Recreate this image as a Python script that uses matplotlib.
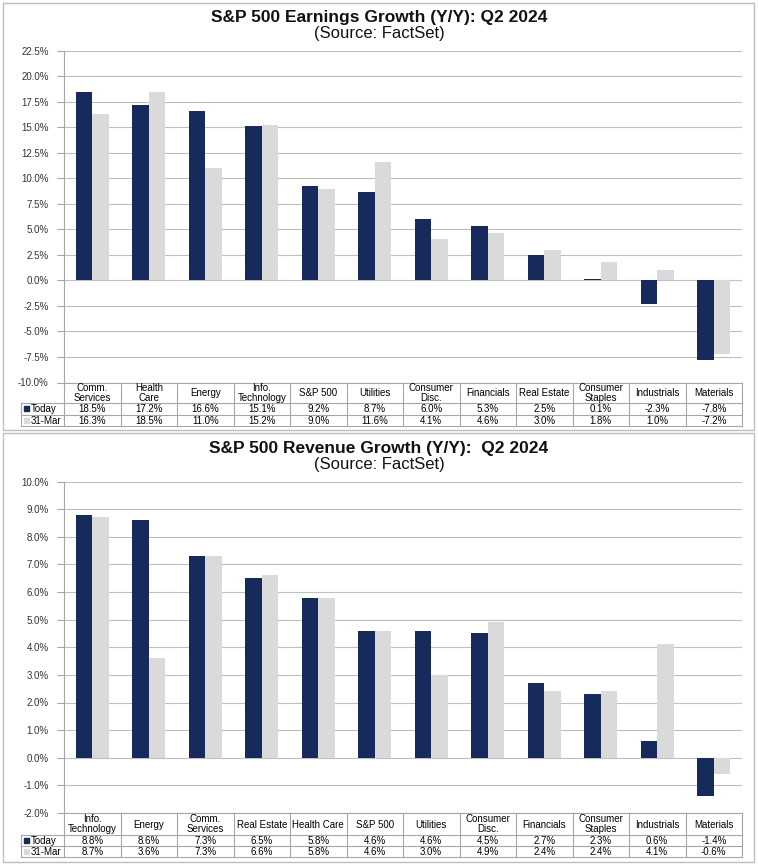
import numpy as np
import matplotlib as mpl
mpl.use("Agg")
import matplotlib.pyplot as plt
from matplotlib.patches import Rectangle
from matplotlib.ticker import MultipleLocator, FuncFormatter

plt.rcParams["font.family"] = ["Liberation Sans", "DejaVu Sans"]

# earnings growth, Q2 2024 (%)
earn_labels = ["Comm.\nServices", "Health\nCare", "Energy", "Info.\nTechnology",
               "S&P 500", "Utilities", "Consumer\nDisc.", "Financials",
               "Real Estate", "Consumer\nStaples", "Industrials", "Materials"]
earn_today = [18.5, 17.2, 16.6, 15.1, 9.2, 8.7, 6.0, 5.3, 2.5, 0.1, -2.3, -7.8]
earn_mar31 = [16.3, 18.5, 11.0, 15.2, 9.0, 11.6, 4.1, 4.6, 3.0, 1.8, 1.0, -7.2]

# revenue growth, Q2 2024 (%)
rev_labels = ["Info.\nTechnology", "Energy", "Comm.\nServices", "Real Estate",
              "Health Care", "S&P 500", "Utilities", "Consumer\nDisc.",
              "Financials", "Consumer\nStaples", "Industrials", "Materials"]
rev_today = [8.8, 8.6, 7.3, 6.5, 5.8, 4.6, 4.6, 4.5, 2.7, 2.3, 0.6, -1.4]
rev_mar31 = [8.7, 3.6, 7.3, 6.6, 5.8, 4.6, 3.0, 4.9, 2.4, 2.4, 4.1, -0.6]

series_names = ["Today", "31-Mar"]

NAVY = "#172a5c"
LGRAY = "#dadada"
LINE = "#a6a6a6"

W, H = 758, 868
fig = plt.figure(figsize=(W / 100, H / 100), dpi=100)

# overlay axes in pixel coordinates for borders, titles and the data tables
ov = fig.add_axes([0, 0, 1, 1], zorder=5)
ov.set_xlim(0, W)
ov.set_ylim(H, 0)
ov.axis("off")
ov.patch.set_alpha(0)


def panel(title, labels, today, mar31, box, title_y, plot_top, plot_bot,
          rows, ylim, step, fmt):
    x0, y0, x1, y1 = box
    ov.add_patch(Rectangle((x0, y0), x1 - x0, y1 - y0, fill=False,
                           ec="#bdbdbd", lw=1.0))
    ov.text(W / 2, title_y, title, ha="center", va="center",
            fontsize=12.5, fontweight="bold", color="#111111")
    ov.text(W / 2, title_y + 16, "(Source: FactSet)", ha="center",
            va="center", fontsize=12, color="#111111")

    left, right = 64, 742
    ax = fig.add_axes([left / W, 1 - plot_bot / H, (right - left) / W,
                       (plot_bot - plot_top) / H])
    n = len(labels)
    x = np.arange(n)
    bw = 0.29
    ax.bar(x - bw / 2, today, bw, color=NAVY, zorder=3)
    ax.bar(x + bw / 2, mar31, bw, color=LGRAY, zorder=3)
    ax.set_xlim(-0.5, n - 0.5)
    ax.set_ylim(*ylim)
    ax.yaxis.set_major_locator(MultipleLocator(step))
    ax.yaxis.set_major_formatter(FuncFormatter(lambda v, p: fmt % v))
    ax.grid(axis="y", color="#bfbfbf", lw=0.8, zorder=0)
    ax.set_xticks([])
    for s in ["top", "right", "bottom"]:
        ax.spines[s].set_visible(False)
    ax.spines["left"].set_color(LINE)
    ax.tick_params(axis="y", length=5, color=LINE, labelsize=7,
                   labelcolor="#333333", pad=6)

    # data table under the plot
    hdr_bot, r1_bot, r2_bot = rows
    lab_left = 21
    cw = (right - left) / n
    ov.plot([left, right], [plot_bot, plot_bot], color=LINE, lw=0.8)
    for yy in (hdr_bot, r1_bot, r2_bot):
        ov.plot([lab_left, right], [yy, yy], color=LINE, lw=0.8)
    ov.plot([lab_left, lab_left], [hdr_bot, r2_bot], color=LINE, lw=0.8)
    for i in range(n + 1):
        xx = left + i * cw
        ov.plot([xx, xx], [plot_bot, r2_bot], color=LINE, lw=0.8)
    for i, lab in enumerate(labels):
        cx = left + (i + 0.5) * cw
        ov.text(cx, (plot_bot + hdr_bot) / 2 + 0.5, lab, ha="center",
                va="center", fontsize=7, linespacing=1.0)
        ov.text(cx, (hdr_bot + r1_bot) / 2 + 0.5, "%.1f%%" % today[i],
                ha="center", va="center", fontsize=7)
        ov.text(cx, (r1_bot + r2_bot) / 2 + 0.5, "%.1f%%" % mar31[i],
                ha="center", va="center", fontsize=7)
    for (ya, yb), col, name in zip([(hdr_bot, r1_bot), (r1_bot, r2_bot)],
                                   [NAVY, LGRAY], series_names):
        ym = (ya + yb) / 2
        ov.add_patch(Rectangle((lab_left + 3, ym - 2.5), 5, 5, color=col))
        ov.text(lab_left + 10, ym + 0.5, name, ha="left", va="center",
                fontsize=7)


panel("S&P 500 Earnings Growth (Y/Y): Q2 2024", earn_labels, earn_today,
      earn_mar31, (3, 3, 754, 430), 17.5, 50.7, 382.5, (403, 414.5, 426),
      (-10, 22.5), 2.5, "%.1f%%")
panel("S&P 500 Revenue Growth (Y/Y):  Q2 2024", rev_labels, rev_today,
      rev_mar31, (3, 432.5, 754, 862), 448, 481.5, 813, (835, 846, 857),
      (-2, 10), 1.0, "%.1f%%")

fig.savefig("out.png", dpi=100)
